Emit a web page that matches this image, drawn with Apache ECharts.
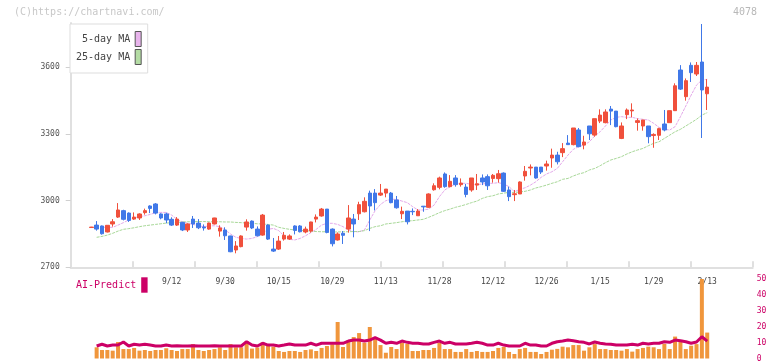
<!DOCTYPE html>
<html><head><meta charset="utf-8">
<script src="https://cdn.jsdelivr.net/npm/echarts@6.0.0/dist/echarts.min.js"></script>
<style>html,body{margin:0;padding:0;background:#fff}#c{width:772px;height:361px}</style>
</head><body><div id="c"></div>
<script>
const dates = ['8/22','8/25','8/26','8/27','8/28','8/29','9/1','9/2','9/3','9/4','9/5','9/8','9/9','9/10','9/11','9/12','9/16','9/17','9/18','9/19','9/22','9/24','9/25','9/26','9/29','9/30','10/1','10/2','10/3','10/6','10/7','10/8','10/9','10/10','10/14','10/15','10/16','10/17','10/20','10/21','10/22','10/23','10/24','10/27','10/28','10/29','10/30','10/31','11/4','11/5','11/6','11/7','11/10','11/11','11/12','11/13','11/14','11/17','11/18','11/19','11/20','11/21','11/25','11/26','11/27','11/28','12/1','12/2','12/3','12/4','12/5','12/8','12/9','12/10','12/11','12/12','12/15','12/16','12/17','12/18','12/19','12/22','12/23','12/24','12/25','12/26','12/29','12/30','1/5','1/6','1/7','1/8','1/9','1/13','1/14','1/15','1/16','1/19','1/20','1/21','1/22','1/23','1/26','1/27','1/28','1/29','1/30','2/2','2/3','2/4','2/5','2/6','2/9','2/10','2/12','2/13'];
const tickLabels = ['9/12','9/30','10/15','10/29','11/13','11/28','12/12','12/26','1/15','1/29','2/13'];
const priceTicks = [2700,3000,3300,3600];
const open  = [2879,2890,2886,2859,2895,2926,2955,2944,2917,2922,2946,2976,2985,2940,2940,2916,2890,2902,2868,2917,2899,2881,2872,2895,2863,2868,2841,2778,2793,2881,2908,2872,2845,2890,2782,2782,2827,2827,2886,2886,2859,2863,2917,2931,2962,2872,2823,2853,2872,2917,2941,2950,3034,3034,3025,3034,3034,3003,2941,2953,2952,2932,2975,2970,3049,3060,3120,3063,3102,3072,3061,3048,3070,3102,3108,3100,3099,3124,3048,3027,3030,3111,3147,3151,3151,3156,3192,3205,3216,3259,3252,3318,3250,3336,3295,3358,3351,3412,3403,3280,3387,3404,3352,3336,3336,3293,3294,3345,3351,3405,3588,3468,3609,3570,3624,3481];
const close = [2881,2872,2851,2889,2905,2958,2916,2911,2926,2940,2955,2965,2944,2922,2913,2890,2917,2868,2895,2895,2878,2877,2899,2922,2877,2842,2770,2796,2841,2904,2877,2842,2935,2827,2773,2818,2844,2841,2866,2860,2872,2904,2926,2962,2857,2806,2850,2844,2922,2895,2982,2997,2976,2991,3034,3052,2991,2968,2952,2905,2950,2953,2972,3030,3067,3102,3063,3087,3072,3079,3028,3102,3076,3084,3067,3114,3121,3042,3018,3031,3084,3132,3151,3102,3129,3165,3205,3175,3234,3252,3327,3243,3264,3301,3369,3385,3399,3403,3333,3336,3408,3408,3360,3363,3288,3298,3324,3318,3405,3517,3502,3540,3576,3609,3498,3511];
const low   = [2878,2865,2847,2857,2883,2922,2911,2904,2913,2913,2937,2944,2938,2916,2898,2886,2886,2863,2859,2877,2872,2865,2869,2893,2838,2823,2768,2763,2790,2865,2872,2839,2842,2823,2769,2778,2820,2823,2848,2857,2853,2856,2902,2928,2853,2794,2820,2805,2856,2835,2913,2947,2863,2956,3021,3015,2988,2964,2917,2893,2935,2931,2950,2968,3045,3051,3058,3060,3063,3063,3015,3040,3048,3070,3048,3081,3081,3039,2998,2998,3030,3090,3114,3099,3120,3135,3148,3163,3196,3252,3249,3240,3231,3273,3288,3349,3348,3340,3330,3277,3367,3375,3315,3315,3258,3238,3273,3312,3351,3405,3498,3450,3534,3561,3282,3408];
const high  = [2882,2908,2888,2890,2917,2989,2959,2947,2947,2943,2964,2979,2989,2943,2946,2925,2926,2905,2898,2931,2917,2893,2901,2923,2889,2880,2842,2818,2844,2916,2911,2884,2940,2893,2832,2841,2859,2848,2889,2890,2883,2905,2938,2967,2962,2875,2857,2863,2980,2940,2995,3015,3045,3052,3075,3052,3039,3021,2973,2953,2965,2962,2975,3033,3078,3108,3127,3115,3115,3100,3075,3102,3120,3118,3118,3120,3138,3127,3063,3048,3087,3156,3163,3151,3151,3180,3234,3220,3259,3295,3327,3327,3292,3336,3369,3411,3411,3426,3403,3352,3415,3438,3370,3363,3336,3303,3328,3408,3405,3528,3610,3550,3622,3624,3795,3547];
const ma5 = ['-','-',2880,2880,2880,2890,2901,2913,2923,2928,2932,2938,2946,2947,2947,2935,2916,2905,2898,2893,2887,2883,2886,2887,2883,2868,2850,2835,2830,2827,2830,2838,2853,2871,2875,2865,2841,2826,2823,2830,2842,2856,2871,2890,2898,2898,2893,2883,2868,2860,2860,2868,2913,2955,2983,3000,3006,3006,2998,2991,2973,2958,2958,2962,2980,3018,3048,3063,3075,3078,3078,3073,3072,3075,3078,3078,3081,3075,3063,3040,3051,3058,3070,3085,3105,3120,3130,3145,3175,3205,3231,3243,3250,3265,3291,3310,3336,3363,3375,3378,3375,3375,3369,3366,3363,3348,3330,3321,3318,3333,3378,3426,3475,3520,3543,3546];
const ma25 = ['-',2835,2839,2845,2853,2863,2871,2874,2878,2883,2887,2890,2893,2896,2899,2901,2902,2904,2905,2905,2906,2906,2905,2905,2905,2904,2904,2902,2901,2899,2898,2896,2895,2893,2890,2880,2875,2871,2868,2866,2865,2863,2861,2860,2860,2859,2859,2860,2860,2861,2861,2865,2875,2883,2887,2895,2898,2901,2905,2908,2910,2913,2916,2925,2935,2946,2955,2962,2970,2976,2983,2991,2998,3010,3018,3022,3030,3034,3037,3037,3039,3042,3048,3057,3063,3070,3078,3085,3096,3100,3111,3120,3126,3138,3145,3157,3171,3183,3190,3198,3210,3220,3228,3235,3247,3258,3265,3280,3295,3310,3321,3336,3351,3366,3385,3396];
const volume = ['-',7.0,5.3,5.3,4.9,10.3,5.9,5.9,6.6,4.9,5.3,4.7,5.3,5.3,6.4,5.3,4.7,5.9,5.9,9.0,5.3,4.7,5.3,5.9,7.0,5.3,9.0,7.0,7.0,10.8,6.2,6.9,10.1,8.4,7.4,4.7,4.1,4.7,4.7,4.1,5.3,5.7,4.7,6.6,7.8,8.9,22.8,7.2,11.4,13.4,15.9,9.9,19.7,13.0,8.4,3.6,7.2,5.9,9.9,9.1,4.7,4.7,5.3,5.3,6.6,9.9,5.9,5.9,4.1,4.1,5.9,4.1,4.7,4.1,4.1,4.7,6.6,7.2,4.1,2.8,5.9,6.6,4.1,4.1,2.8,4.1,5.5,6.0,7.4,7.0,8.4,8.4,4.9,7.0,9.0,5.9,5.9,5.3,5.3,4.9,5.9,4.3,5.9,6.6,7.4,7.0,5.9,9.1,5.9,13.7,10.5,5.9,8.0,9.0,49.7,16.2];
const aiPredict = ['-',7.8,8.9,7.8,8.4,8.4,10.3,7.8,8.9,8.4,8.9,8.4,7.8,7.8,8.4,7.8,7.9,7.8,7.8,7.9,7.8,7.8,7.8,7.9,7.8,7.8,7.8,7.8,7.8,10.5,8.4,7.8,9.5,8.4,8.4,7.8,8.4,9.1,8.4,8.4,8.4,9.5,8.4,9.5,9.5,9.5,9.5,9.5,10.9,11.5,11.5,10.9,11.5,13.0,11.5,9.5,10.1,9.5,10.9,10.1,9.5,9.5,9.1,9.1,10.1,10.9,9.5,10.1,9.1,9.1,9.1,9.5,10.1,9.5,8.4,8.4,9.5,8.4,7.8,7.8,7.8,9.5,8.4,8.4,7.8,7.8,9.5,10.5,10.9,11.5,11.1,10.5,10.1,9.1,10.3,9.5,9.1,8.9,8.4,8.4,8.4,8.9,8.4,9.5,9.1,9.5,9.5,10.5,10.1,11.5,11.1,10.5,9.5,10.3,13.6,10.9];

const ohlc = open.map((o, i) => [o, close[i], low[i], high[i]]);
const FONT = "'DejaVu Sans Mono', monospace";
const UP = '#f0503c', DOWN = '#4078e8';
const chart = echarts.init(document.getElementById('c'), null, {renderer: 'canvas'});
chart.setOption({
  animation: false,
  backgroundColor: '#fff',
  grid: [
    {left: 70.7, right: 19.3, top: 22.9, bottom: 93.7, outerBoundsMode: 'none'},
    {left: 88.6, right: 62.1, top: 22.9, bottom: 93.7, outerBoundsMode: 'none'},
    {left: 88.6, right: 62.1, top: 278.5, bottom: 2.5, outerBoundsMode: 'none'}
  ],
  xAxis: [
    {gridIndex: 0, type: 'value', min: 0, max: 11, interval: 1,
     axisLine: {show: true, lineStyle: {color: '#e0e0e0', width: 2}},
     axisTick: {show: true, inside: true, length: 6, lineStyle: {color: '#e0e0e0', width: 2}},
     axisLabel: {show: false}, splitLine: {show: false}},
    {gridIndex: 1, type: 'category', data: dates, boundaryGap: true,
     axisLine: {show: false}, axisTick: {show: false}, splitLine: {show: false},
     axisLabel: {interval: (idx, val) => tickLabels.includes(val), color: '#444', fontSize: 8, fontFamily: FONT, margin: 10.5}},
    {gridIndex: 2, type: 'category', data: dates, boundaryGap: true, show: false}
  ],
  yAxis: [
    {gridIndex: 0, type: 'value', min: 2700, max: 3800, interval: 300,
     axisLine: {show: true, lineStyle: {color: '#e0e0e0', width: 2}},
     axisTick: {show: true, length: 5, customValues: priceTicks, lineStyle: {color: '#d0d0d0'}},
     axisLabel: {customValues: priceTicks, formatter: v => String(v), color: '#555', fontSize: 8, fontFamily: FONT, margin: 11},
     splitLine: {show: false}},
    {gridIndex: 1, type: 'value', min: 2700, max: 3800, show: false, splitLine: {show: false}},
    {gridIndex: 2, type: 'value', min: 0, max: 50, interval: 10, position: 'right', offset: 42.8,
     axisLine: {show: false}, axisTick: {show: false}, splitLine: {show: false},
     axisLabel: {color: '#cc0066', fontSize: 8, fontFamily: FONT, margin: 4}}
  ],
  legend: [
    {data: ['5-day MA', '25-day MA'], orient: 'vertical', align: 'right', left: 70, top: 24,
     padding: [7, 6, 8, 6], itemGap: 2, itemWidth: 6, itemHeight: 15, icon: 'rect',
     borderColor: '#ddd', borderWidth: 1, backgroundColor: '#fff', selectedMode: false,
     itemStyle: {borderColor: '#555', borderWidth: 1},
     textStyle: {fontSize: 10, color: '#444', fontFamily: FONT}},
    {data: ['AI-Predict'], orient: 'horizontal', align: 'right', left: 76, top: 277.3,
     padding: 0, itemWidth: 6.4, itemHeight: 15.4, icon: 'rect', selectedMode: false,
     itemStyle: {borderWidth: 0},
     textStyle: {fontSize: 10, color: '#cc0066', fontFamily: FONT}}
  ],
  graphic: [
    {type: 'text', left: 14, top: 7, style: {text: '(C)https://chartnavi.com/', fill: '#c8c8c8', font: "10px 'DejaVu Sans Mono', monospace"}},
    {type: 'text', right: 15, top: 7, style: {text: '4078', fill: '#b8b8b8', font: "10px 'DejaVu Sans Mono', monospace"}}
  ],
  series: [
    {name: '5-day MA', type: 'line', xAxisIndex: 1, yAxisIndex: 1, data: ma5, symbol: 'none', z: 2,
     color: '#e8b4ec', lineStyle: {color: '#e4a8ea', width: 1, type: [3, 1]}},
    {name: '25-day MA', type: 'line', xAxisIndex: 1, yAxisIndex: 1, data: ma25, symbol: 'none', z: 2,
     color: '#b4dca4', lineStyle: {color: '#a8d898', width: 1, type: [3, 1]}},
    {name: 'price', type: 'candlestick', xAxisIndex: 1, yAxisIndex: 1, data: ohlc, barWidth: 4, z: 3,
     itemStyle: {color: UP, color0: DOWN, borderColor: UP, borderColor0: DOWN, borderWidth: 1}},
    {name: 'volume', type: 'bar', xAxisIndex: 2, yAxisIndex: 2, data: volume, barWidth: 4,
     itemStyle: {color: '#f0963c'}, z: 2},
    {name: 'AI-Predict', type: 'line', xAxisIndex: 2, yAxisIndex: 2, data: aiPredict, symbol: 'none', z: 3,
     color: '#cc0066', lineStyle: {color: '#cc0066', width: 3}}
  ]
});
</script></body></html>
